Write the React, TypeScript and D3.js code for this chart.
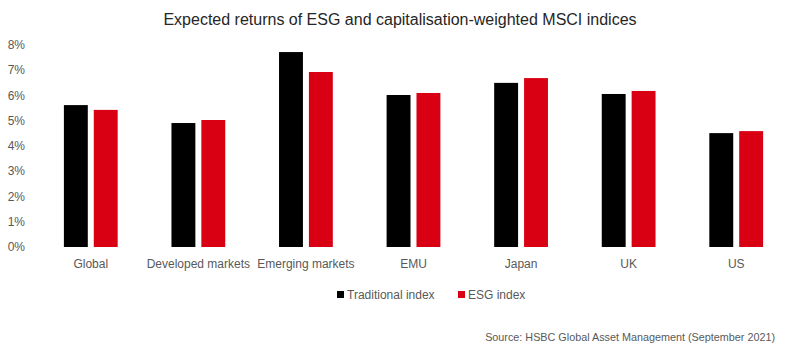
import React from "react";
import * as d3 from "d3";

const categories = ["Global", "Developed markets", "Emerging markets", "EMU", "Japan", "UK", "US"];
const series = ["Traditional index", "ESG index"];
const traditional = [5.62, 4.91, 7.72, 6.02, 6.5, 6.06, 4.51];
const esg = [5.43, 5.03, 6.93, 6.1, 6.69, 6.18, 4.59];
const yTicks = [0, 1, 2, 3, 4, 5, 6, 7, 8];
const colors = ["#000000", "#DA0014"];
const title = "Expected returns of ESG and capitalisation-weighted MSCI indices";
const source = "Source: HSBC Global Asset Management (September 2021)";

export default function App() {
  const W = 789, H = 350;
  const font = "'Liberation Sans', Arial, sans-serif";
  const x0 = d3.scaleBand<string>().domain(categories).range([37, 790]).paddingInner(0.5).paddingOuter(0.25);
  const x1 = d3.scaleBand<string>().domain(series).range([0, x0.bandwidth()]).paddingInner(0.2).paddingOuter(0);
  const y = d3.scaleLinear().domain([0, 8]).range([247, 45]);
  const data = [traditional, esg];
  return (
    <svg width={W} height={H} style={{ position: "absolute", left: 0, top: 0, background: "#fff" }} fontFamily={font}>
      <rect width={W} height={H} fill="#fff" />
      <text x={400} y={25} textAnchor="middle" fontSize={16} fill="#262626">{title}</text>
      {yTicks.map(t => (
        <text key={t} x={25} y={y(t)} dy="0.35em" textAnchor="end" fontSize={12} fill="#595959">{t + "%"}</text>
      ))}
      {data.map((vals, si) =>
        vals.map((v, i) => (
          <rect key={si + "-" + i}
            x={(x0(categories[i]) as number) + (x1(series[si]) as number)}
            y={y(v)} width={x1.bandwidth()} height={y(0) - y(v)} fill={colors[si]} />
        ))
      )}
      {categories.map(c => (
        <text key={c} x={(x0(c) as number) + x0.bandwidth() / 2} y={268} textAnchor="middle" fontSize={12} fill="#595959">{c}</text>
      ))}
      <g>
        <rect x={337} y={291} width={7} height={7} fill={colors[0]} />
        <text x={347} y={299} fontSize={12} fill="#595959">{series[0]}</text>
        <rect x={458} y={291} width={7} height={7} fill={colors[1]} />
        <text x={468} y={299} fontSize={12} fill="#595959">{series[1]}</text>
      </g>
      <text x={775} y={341} textAnchor="end" fontSize={10.8} fill="#595959">{source}</text>
    </svg>
  );
}
